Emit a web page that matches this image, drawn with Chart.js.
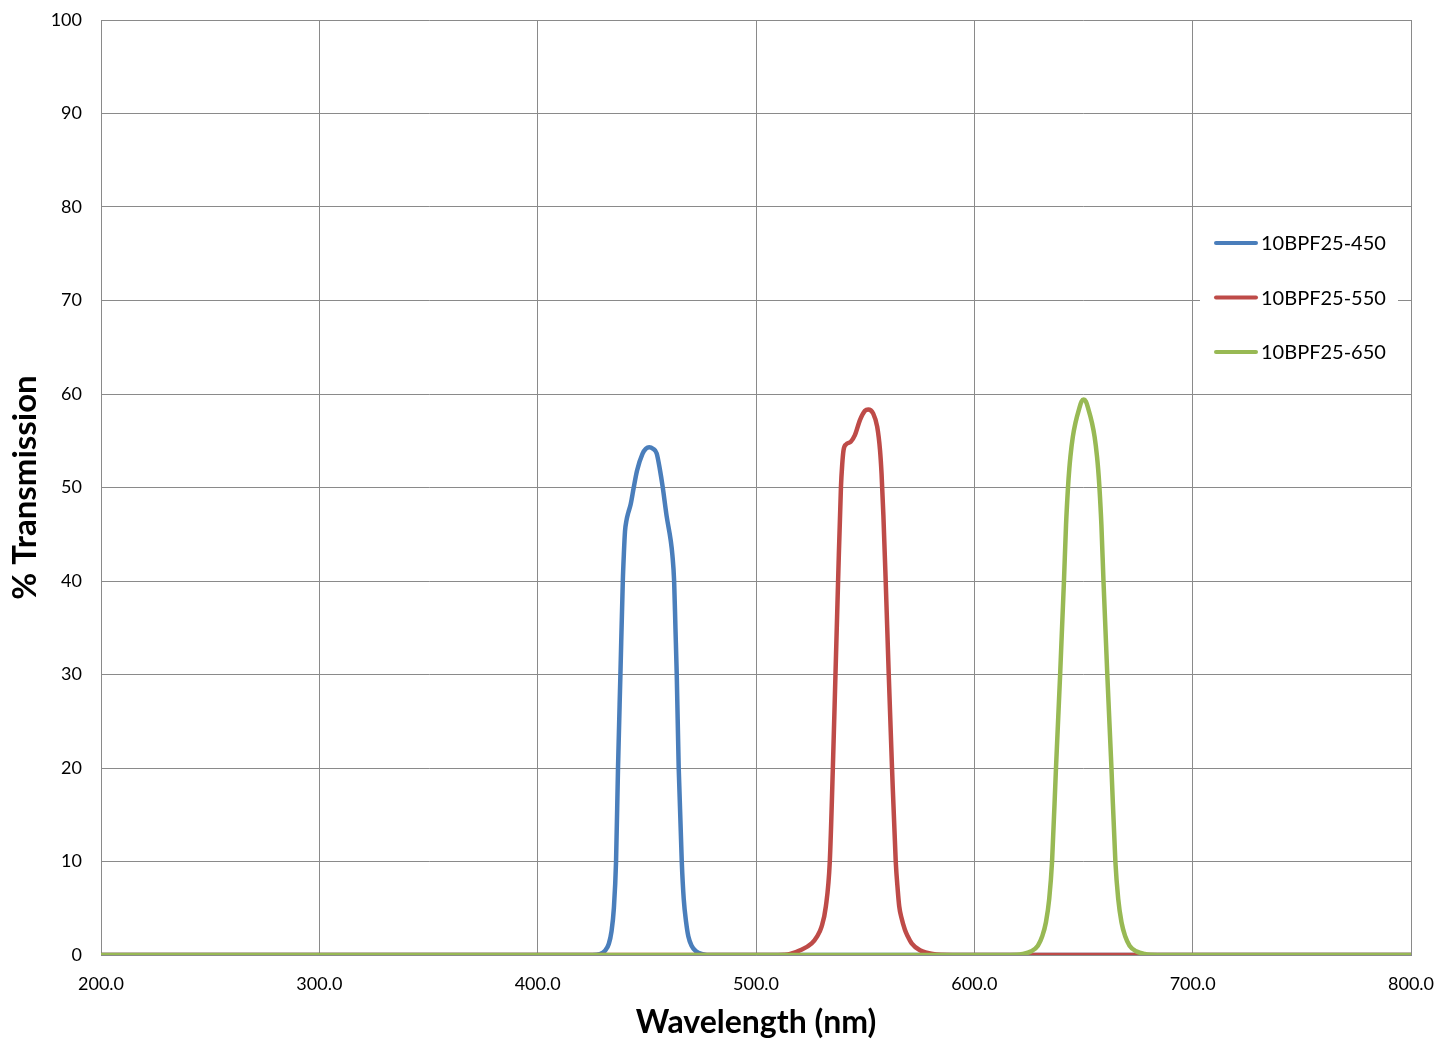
<!DOCTYPE html>
<html>
<head>
<meta charset="utf-8">
<script src="https://cdn.jsdelivr.net/npm/chart.js@4.4.1/dist/chart.umd.min.js"></script>
<style>
  html, body { margin: 0; padding: 0; background: #fff; }
  #wrap { width: 1442px; height: 1042px; }
</style>
</head>
<body>
<div id="wrap"><canvas id="chart" width="1442" height="1042"></canvas></div>
<script>
// filter names
const seriesNames = ["10BPF25-450", "10BPF25-550", "10BPF25-650"];

// wavelength (nm) / % transmission
const blueNm = [200, 425, 428.5, 431.0, 432.6, 433.8, 434.9, 435.9, 436.8, 437.9, 439.0, 439.5, 440.0, 440.7, 441.5, 442.6, 444.0, 445.5, 448.0, 449.6, 451.1, 452.8, 454.5, 456.0, 457.3, 459.1, 460.9, 461.7, 462.5, 463.1, 463.7, 464.6, 466.0, 466.9, 468.0, 469.0, 470.5, 472.5, 475.5, 480, 800];
const blueT  = [0, 0, 0.1, 0.5, 1.2, 2.5, 5, 10, 20, 30, 40, 43, 45.3, 46.5, 47.3, 48.2, 50, 51.8, 53.6, 54.15, 54.3, 54.15, 53.65, 51.9, 50, 46.9, 44.4, 42.8, 40, 35, 30, 20, 10, 6, 3.5, 2, 1, 0.4, 0.1, 0, 0];

const redNm = [200, 510, 515.6, 520.2, 525.5, 528.0, 530.0, 532.0, 533.8, 535.2, 536.4, 537.6, 538.9, 539.5, 540.1, 541.2, 543.4, 545.3, 547.6, 549.9, 551.4, 553.7, 555.5, 556.8, 557.5, 558.35, 559.4, 560.8, 562.3, 564.0, 564.9, 565.6, 566.6, 568.2, 569.5, 571.3, 575.1, 581, 590, 800];
const redT  = [0, 0, 0.1, 0.5, 1.25, 2, 3, 5.2, 10, 20, 30, 40, 50, 52.5, 54, 54.6, 54.9, 55.6, 57.2, 58.2, 58.35, 57.9, 56.5, 54.0, 51.5, 47, 40, 30, 20, 10, 7, 5.2, 4, 2.7, 2, 1.25, 0.5, 0.1, 0, 0];

const greenNm = [200, 616.1, 622.1, 626.1, 629.1, 631.1, 632.8, 634.3, 635.6, 637.4, 639.3, 641.05, 642.0, 642.9, 643.5, 644.0, 645.1, 646.3, 648.1, 649.1, 650.1,
                 651.1, 652.1, 653.9, 655.1, 656.2, 656.7, 657.3, 658.2, 659.15, 660.9, 662.8, 664.6, 665.9, 667.4, 669.1, 671.1, 674.1, 678.1, 684.1, 800];
const greenT  = [0, 0, 0.1, 0.4, 1, 2, 3.5, 6, 10, 20, 30, 40, 46, 50, 52, 53.3, 55.4, 56.9, 58.5, 59.2, 59.4,
                 59.2, 58.5, 56.9, 55.4, 53.3, 52, 50, 46, 40, 30, 20, 10, 6, 3.5, 2, 1, 0.4, 0.1, 0, 0];

// axis ticks
const xTicks = [200, 300, 400, 500, 600, 700, 800];
const yTicks = [0, 10, 20, 30, 40, 50, 60, 70, 80, 90, 100];

const colors = ["#4A7EBB", "#BE4B48", "#98B954"];
const gridColor = "#8a8a8a";
const fontFamily = "Lato, 'Open Sans', sans-serif";

const toPoints = (xs, ys) => xs.map((x, i) => ({ x: x, y: ys[i] }));

// legend drawn inside the plot area, white box over the grid
const insideLegend = {
    id: "insideLegend",
    afterDatasetsDraw(chart) {
        const ctx = chart.ctx;
        const area = chart.chartArea;
        const boxX = area.right - 211, boxY = 215, boxW = 198, boxH = 162;
        ctx.save();
        ctx.fillStyle = "#fff";
        ctx.fillRect(boxX, boxY, boxW, boxH);
        ctx.font = "20px " + fontFamily;
        ctx.textBaseline = "middle";
        ctx.lineCap = "round";
        chart.data.datasets.forEach((ds, i) => {
            const y = 243 + i * 54.5;
            ctx.strokeStyle = ds.borderColor;
            ctx.lineWidth = 4;
            ctx.beginPath();
            ctx.moveTo(boxX + 16, y);
            ctx.lineTo(boxX + 56, y);
            ctx.stroke();
            ctx.fillStyle = "#000";
            ctx.fillText(ds.label, boxX + 61, y + 1);
        });
        ctx.restore();
    }
};

const chart = new Chart(document.getElementById("chart"), {
    type: "line",
    data: {
        datasets: [
            { label: seriesNames[0], data: toPoints(blueNm, blueT), borderColor: colors[0], order: 3 },
            { label: seriesNames[1], data: toPoints(redNm, redT), borderColor: colors[1], order: 2 },
            { label: seriesNames[2], data: toPoints(greenNm, greenT), borderColor: colors[2], order: 1 },
        ],
    },
    options: {
        responsive: false,
        animation: false,
        layout: { padding: { top: 20, right: 31, left: 0, bottom: 0 } },
        elements: {
            point: { radius: 0 },
            line: { borderWidth: 4.5, cubicInterpolationMode: "monotone", borderJoinStyle: "round", fill: false },
        },
        scales: {
            x: {
                type: "linear",
                min: 200,
                max: 800,
                afterFit: (s) => { s.height = 87; },
                afterBuildTicks: (s) => { s.ticks = xTicks.map((v) => ({ value: v })); },
                ticks: {
                    color: "#000",
                    font: { family: fontFamily, size: 18 },
                    padding: 7,
                    maxRotation: 0,
                    callback: (v) => v.toFixed(1),
                },
                // invisible tick marks push the labels down without widening the side padding
                grid: { color: gridColor, drawTicks: true, tickLength: 11, tickColor: "rgba(0,0,0,0)" },
                border: { color: gridColor },
                title: {
                    display: true,
                    text: "Wavelength (nm)",
                    color: "#000",
                    padding: 0,
                    font: { family: fontFamily, size: 32, weight: "bold", lineHeight: 1.19 },
                },
            },
            y: {
                min: 0,
                max: 100,
                afterFit: (s) => { s.width = 101; },
                afterBuildTicks: (s) => { s.ticks = yTicks.map((v) => ({ value: v })); },
                ticks: {
                    color: "#000",
                    font: { family: fontFamily, size: 18 },
                    padding: 9,
                },
                grid: { color: gridColor, drawTicks: true, tickLength: 10, tickColor: "rgba(0,0,0,0)" },
                border: { color: gridColor },
                title: {
                    display: true,
                    text: "% Transmission",
                    color: "#000",
                    padding: 0,
                    font: { family: fontFamily, size: 33, weight: "bold", lineHeight: 1.52 },
                },
            },
        },
        plugins: {
            legend: { display: false },
            tooltip: { enabled: false },
        },
    },
    plugins: [insideLegend],
});
</script>
</body>
</html>
